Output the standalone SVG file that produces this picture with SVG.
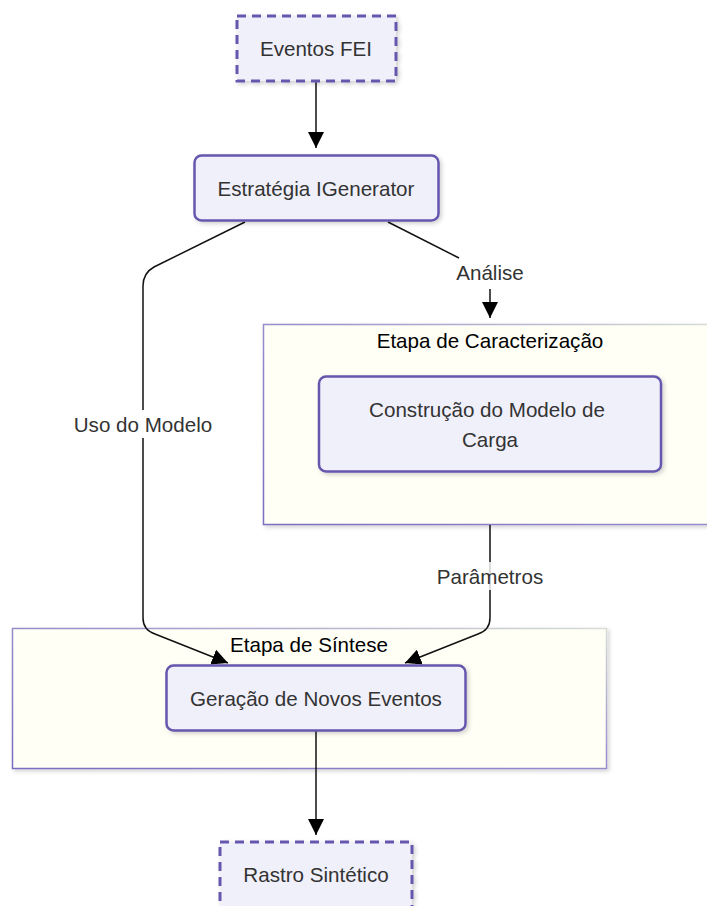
<svg xmlns="http://www.w3.org/2000/svg" width="707" height="906" viewBox="0 0 707 906">
  <style>
    .node { fill: #f0f0fb; stroke: #6657ad; stroke-width: 2.5; }
    .term { fill: #f0f0fb; stroke: #6657ad; stroke-width: 3; stroke-dasharray: 9 6; }
    .cluster { fill: #fffff6; stroke: url(#clusterEdge); stroke-width: 1.5; }
    .label { font-family: "Liberation Sans", Arial, sans-serif; font-size: 20.6px; fill: #333; text-anchor: middle; dominant-baseline: central; }
    .title { font-family: "Liberation Sans", Arial, sans-serif; font-size: 20.6px; fill: #000; text-anchor: middle; dominant-baseline: central; }
    .edge { fill: none; stroke: #111; stroke-width: 1.5; }
    .edgeLabel { font-family: "Liberation Sans", Arial, sans-serif; font-size: 20.6px; fill: #333; text-anchor: middle; dominant-baseline: central; }
  </style>
  <defs>
    <linearGradient id="clusterEdge" x1="0" y1="1" x2="1" y2="0">
      <stop offset="0" stop-color="#7a6cc0"/>
      <stop offset="0.55" stop-color="#9a90cc"/>
      <stop offset="1" stop-color="#d8ddd6"/>
    </linearGradient>
    <filter id="shadow" x="-10%" y="-10%" width="125%" height="130%">
      <feDropShadow dx="2" dy="2" stdDeviation="2" flood-color="#000" flood-opacity="0.18"/>
    </filter>
    <marker id="arrowBig" viewBox="0 0 10 10" refX="10" refY="5" markerWidth="16" markerHeight="16" markerUnits="userSpaceOnUse" orient="auto">
      <path d="M0,0 L10,5 L0,10 z" fill="#000"/>
    </marker>
  </defs>

  <!-- subgraph backgrounds -->
  <g id="cluster-caracterizacao">
    <rect class="cluster" x="263.5" y="324.5" width="450" height="200" filter="url(#shadow)"/>
    <text class="title" x="490" y="340">Etapa de Caracterização</text>
  </g>
  <g id="cluster-sintese">
    <rect class="cluster" x="12.5" y="628.5" width="594" height="140" filter="url(#shadow)"/>
    <text class="title" x="309" y="644">Etapa de Síntese</text>
  </g>

  <!-- connectors -->
  <g id="edges">
    <path class="edge" d="M316,82 L316,148" marker-end="url(#arrowBig)"/>
    <path class="edge" d="M245,222 L154,267 Q143,273 143,286 L143,618 Q143,630 155,634 L228,663" marker-end="url(#arrowBig)"/>
    <path class="edge" d="M388,222 L459,258"/>
    <path class="edge" d="M490,289 L490,318" marker-end="url(#arrowBig)"/>
    <path class="edge" d="M490,525 L490,618 Q490,630 478,634 L405,663" marker-end="url(#arrowBig)"/>
    <path class="edge" d="M316,731 L316,835" marker-end="url(#arrowBig)"/>
    <rect x="66" y="410" width="154" height="28" fill="#fff"/>
    <text class="edgeLabel" x="143" y="424">Uso do Modelo</text>
    <rect x="450" y="259" width="80" height="28" fill="#fff" fill-opacity="0.8"/>
    <text class="edgeLabel" x="490" y="272">Análise</text>
    <rect x="430" y="562" width="120" height="28" fill="#fff" fill-opacity="0.8"/>
    <text class="edgeLabel" x="490" y="576">Parâmetros</text>
  </g>

  <!-- nodes -->
  <g id="eventos-fei">
    <rect class="term" x="237" y="16" width="159" height="65" filter="url(#shadow)"/>
    <text class="label" x="316" y="48">Eventos FEI</text>
  </g>
  <g id="estrategia-igenerator">
    <rect class="node" x="194.5" y="155.5" width="244" height="65" rx="7" filter="url(#shadow)"/>
    <text class="label" x="316" y="188">Estratégia IGenerator</text>
  </g>
  <g id="construcao-modelo">
    <rect class="node" x="319" y="376.5" width="342" height="95" rx="7" filter="url(#shadow)"/>
    <text class="label" x="487" y="409">Construção do Modelo de</text>
    <text class="label" x="490" y="439">Carga</text>
  </g>
  <g id="geracao-eventos">
    <rect class="node" x="166.5" y="665.5" width="299" height="65" rx="7" filter="url(#shadow)"/>
    <text class="label" x="316" y="698">Geração de Novos Eventos</text>
  </g>
  <g id="rastro-sintetico">
    <rect class="term" x="220" y="842" width="192" height="70" filter="url(#shadow)"/>
    <text class="label" x="316" y="874">Rastro Sintético</text>
  </g>
</svg>
